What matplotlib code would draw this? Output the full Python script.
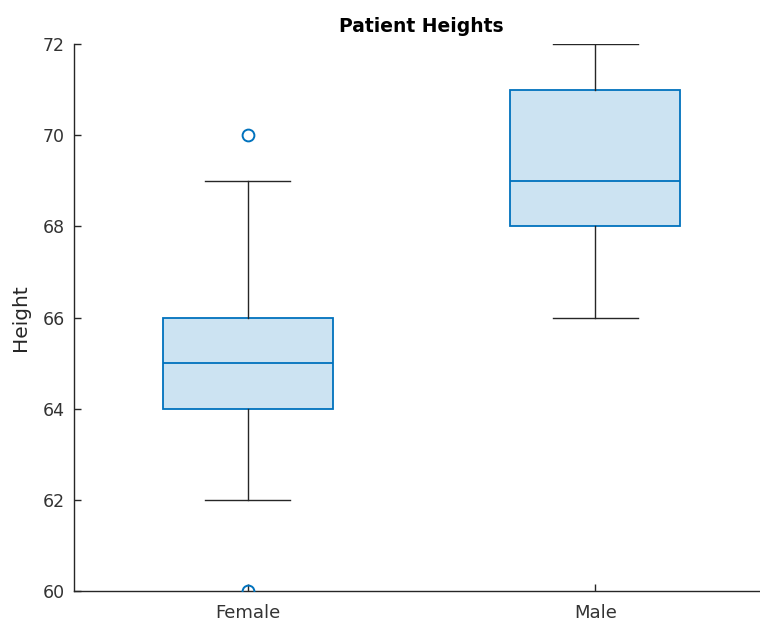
import matplotlib
matplotlib.use("Agg")
import matplotlib.pyplot as plt

categories = ["Female", "Male"]
q1 = [64, 68]
median = [65, 69]
q3 = [66, 71]
whisk_lo = [62, 66]
whisk_hi = [69, 72]
outliers = [[60, 70], []]
yticks = [60, 62, 64, 66, 68, 70, 72]

plt.rcParams['font.family'] = ['DejaVu Sans']

fig = plt.figure(figsize=(7.6, 6.25), dpi=100)
# axes intentionally extend past right edge like the reference
ax = fig.add_axes([74/760, 34/625, 695/760, 547/625])

stats = []
for i, c in enumerate(categories):
    stats.append(dict(med=median[i], q1=q1[i], q3=q3[i], whislo=whisk_lo[i],
                      whishi=whisk_hi[i], fliers=outliers[i], label=c))

blue = '#0072BD'
ax.bxp(stats, positions=[1, 2], widths=0.49, patch_artist=True,
       boxprops=dict(facecolor=(0.80, 0.89, 0.95), edgecolor=blue, linewidth=1.3),
       medianprops=dict(color=blue, linewidth=1.3),
       whiskerprops=dict(color='#262626', linewidth=1.0),
       capprops=dict(color='#262626', linewidth=1.0),
       capwidths=0.245,
       flierprops=dict(marker='o', markerfacecolor='none', markeredgecolor=blue,
                       markersize=8.5, markeredgewidth=1.4),
       zorder=3)

ax.set_xlim(0.5, 2.5)
ax.set_ylim(60, 72)
ax.set_yticks(yticks)
ax.set_xticks([1, 2])
ax.set_xticklabels(categories)
for s in ['top', 'right']:
    ax.spines[s].set_visible(False)
for s in ['left', 'bottom']:
    ax.spines[s].set_color('#262626')
    ax.spines[s].set_linewidth(1.0)
ax.tick_params(direction='in', length=5, width=1.0, colors='#262626',
               labelsize=12.5, labelcolor='#333333')
ax.tick_params(axis='y', pad=6.5)
ax.tick_params(axis='x', labelsize=13, pad=9.5)
ax.set_ylabel('Height', fontsize=14.5, color='#262626')
ax.yaxis.set_label_coords(-0.063, 0.5)
ax.set_title('Patient Heights', fontsize=13.5, fontweight='bold', color='black', pad=9)
ax.patch.set_visible(False)

fig.savefig('out.png', dpi=100)
